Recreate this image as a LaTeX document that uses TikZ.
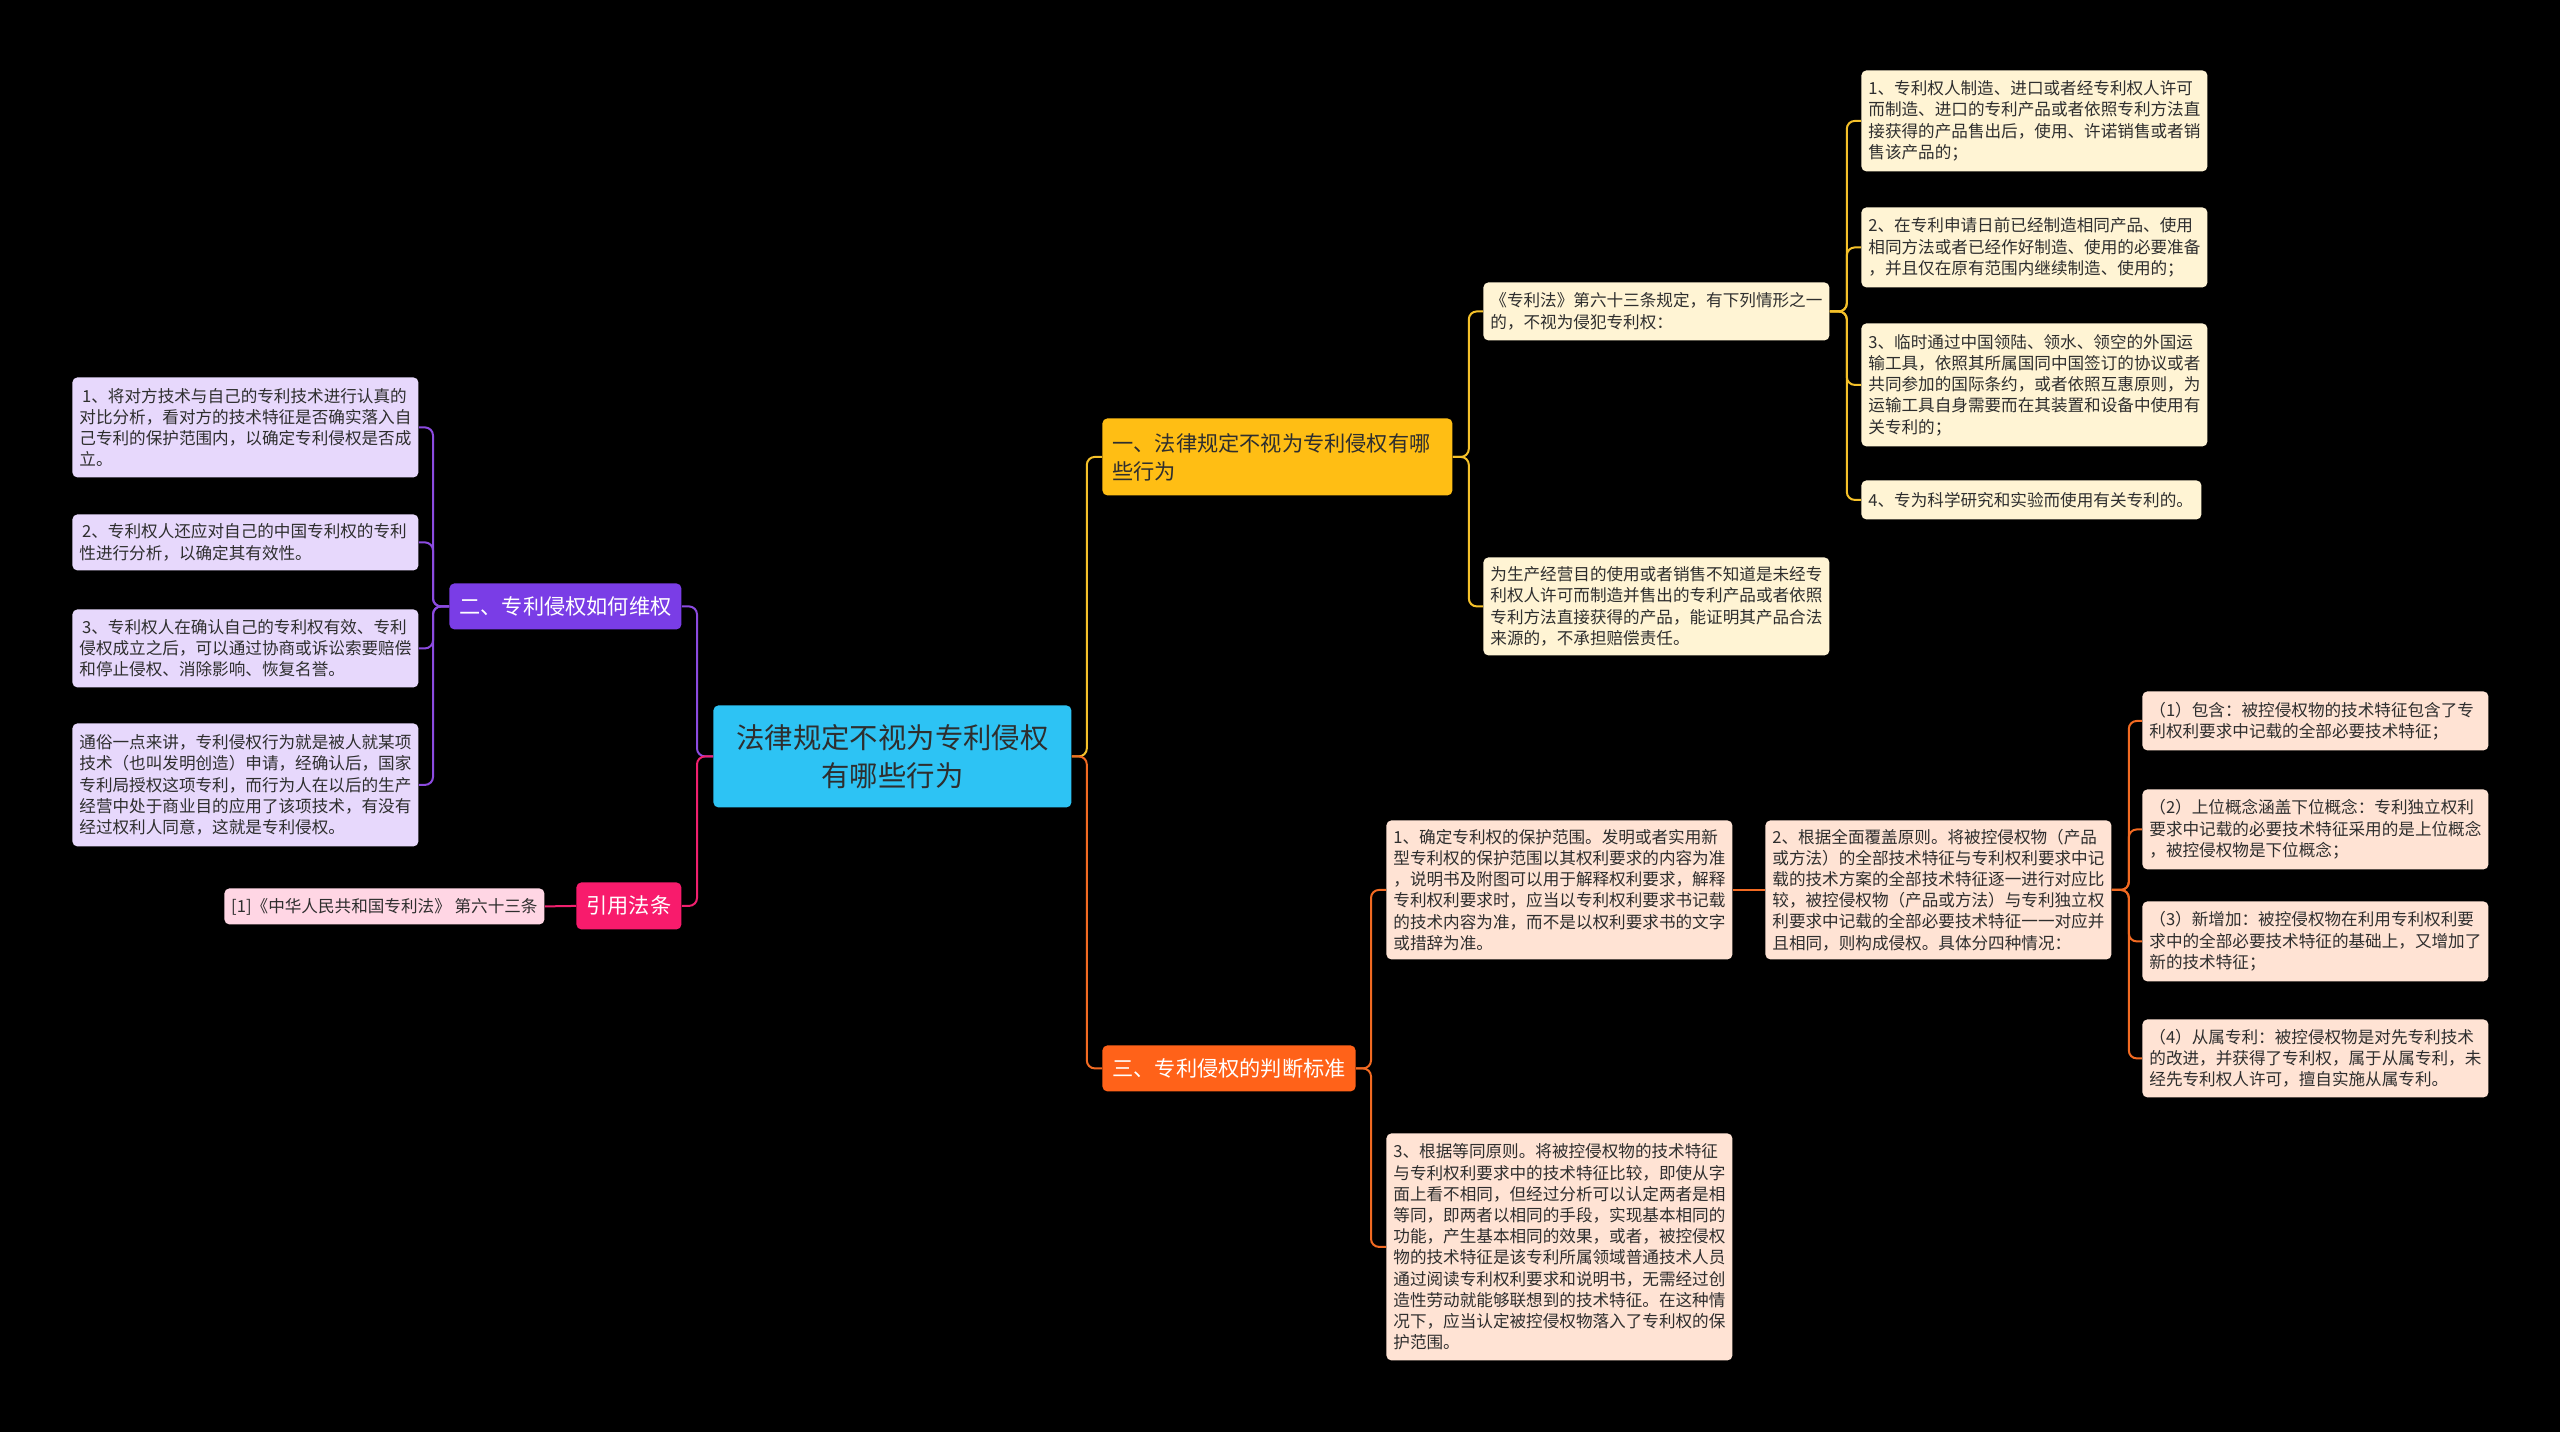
\documentclass[tikz,border=0pt]{standalone}
\usepackage{fontspec}
\setmainfont{Noto Sans CJK SC}

\definecolor{bgblack}{HTML}{000000}
\definecolor{txtdark}{HTML}{2E2E2E}
\definecolor{rootcyan}{HTML}{2DC3F4}
\definecolor{brY}{HTML}{FFBE14}
\definecolor{brO}{HTML}{FF6219}
\definecolor{brP}{HTML}{7A3DE6}
\definecolor{brK}{HTML}{F81B6C}
\definecolor{lfY}{HTML}{FFF4D4}
\definecolor{lfO}{HTML}{FFE3D4}
\definecolor{lfP}{HTML}{E7D8FC}
\definecolor{lfK}{HTML}{FFD6E4}
\definecolor{lnYc}{HTML}{F5C12A}
\definecolor{lnOc}{HTML}{F26A22}
\definecolor{lnPc}{HTML}{8C4BE0}
\definecolor{lnKc}{HTML}{F0206E}

\tikzset{
  box/.style={rounded corners=2.5pt, anchor=north west, inner xsep=3.5pt, inner ysep=2pt},
  leaf/.style={box, align=left, text width=166pt, text=txtdark, font={\fontsize{8.3}{10.6}\selectfont}},
  leafY/.style={leaf, fill=lfY},
  leafO/.style={leaf, fill=lfO},
  leafP/.style={leaf, fill=lfP},
  branch/.style={box, inner xsep=5pt, align=center, font={\fontsize{10.6}{14}\selectfont}},
  conn/.style={line width=1pt, rounded corners=4pt},
  lnY/.style={conn, draw=lnYc},
  lnO/.style={conn, draw=lnOc},
  lnP/.style={conn, draw=lnPc},
  lnK/.style={conn, draw=lnKc},
}

\begin{document}
\begin{tikzpicture}[x=0.5pt, y=-0.5pt]
\fill[bgblack] (0,0) rectangle (2560,1432);
\useasboundingbox (0,0) rectangle (2560,1432);

% centre
\node[box, fill=rootcyan, text=txtdark, align=center, minimum width=179pt, minimum height=51pt,
      font={\fontsize{14.2}{18.8}\selectfont}] (root) at (713,705)
  {法律规定不视为专利侵权\\有哪些行为};

% main branches
\node[branch, fill=brY, text=txtdark, align=left, text width=165pt, minimum height=38.5pt] (b1) at (1102,418)
  {一、法律规定不视为专利侵权有哪\\些行为};
\node[branch, fill=brO, text=white, minimum width=126.5pt, minimum height=23pt] (b3) at (1102,1045)
  {三、专利侵权的判断标准};
\node[branch, fill=brP, text=white, minimum width=116pt, minimum height=23pt] (b2) at (449,583)
  {二、专利侵权如何维权};
\node[branch, fill=brK, text=white, minimum width=52.5pt, minimum height=23.5pt] (cite) at (576,882)
  {引用法条};

% branch one
\node[leafY, minimum height=29pt] (y1) at (1483,282)
  {《专利法》第六十三条规定，有下列情形之一\\的，不视为侵犯专利权：};
\node[leafY, minimum height=49pt] (y2) at (1483,557)
  {为生产经营目的使用或者销售不知道是未经专\\利权人许可而制造并售出的专利产品或者依照\\专利方法直接获得的产品，能证明其产品合法\\来源的，不承担赔偿责任。};
\node[leafY, minimum height=50.5pt] (y11) at (1861,70)
  {1、专利权人制造、进口或者经专利权人许可\\而制造、进口的专利产品或者依照专利方法直\\接获得的产品售出后，使用、许诺销售或者销\\售该产品的；};
\node[leafY, minimum height=40pt] (y12) at (1861,207)
  {2、在专利申请日前已经制造相同产品、使用\\相同方法或者已经作好制造、使用的必要准备\\，并且仅在原有范围内继续制造、使用的；};
\node[leafY, minimum height=61.5pt] (y13) at (1861,323)
  {3、临时通过中国领陆、领水、领空的外国运\\输工具，依照其所属国同中国签订的协议或者\\共同参加的国际条约，或者依照互惠原则，为\\运输工具自身需要而在其装置和设备中使用有\\关专利的；};
\node[leafY, text width=163pt, minimum height=19.5pt] (y14) at (1861,480)
  {4、专为科学研究和实验而使用有关专利的。};

% branch three
\node[leafO, minimum height=69.5pt] (o1) at (1386,820)
  {1、确定专利权的保护范围。发明或者实用新\\型专利权的保护范围以其权利要求的内容为准\\，说明书及附图可以用于解释权利要求，解释\\专利权利要求时，应当以专利权利要求书记载\\的技术内容为准，而不是以权利要求书的文字\\或措辞为准。};
\node[leafO, minimum height=69.5pt] (o2) at (1765,820)
  {2、根据全面覆盖原则。将被控侵权物（产品\\或方法）的全部技术特征与专利权利要求中记\\载的技术方案的全部技术特征逐一进行对应比\\较，被控侵权物（产品或方法）与专利独立权\\利要求中记载的全部必要技术特征一一对应并\\且相同，则构成侵权。具体分四种情况：};
\node[leafO, minimum height=113.5pt] (o3) at (1386,1133)
  {3、根据等同原则。将被控侵权物的技术特征\\与专利权利要求中的技术特征比较，即使从字\\面上看不相同，但经过分析可以认定两者是相\\等同，即两者以相同的手段，实现基本相同的\\功能，产生基本相同的效果，或者，被控侵权\\物的技术特征是该专利所属领域普通技术人员\\通过阅读专利权利要求和说明书，无需经过创\\造性劳动就能够联想到的技术特征。在这种情\\况下，应当认定被控侵权物落入了专利权的保\\护范围。};
\node[leafO, minimum height=29.5pt] (o21) at (2142,691)
  {（1）包含：被控侵权物的技术特征包含了专\\利权利要求中记载的全部必要技术特征；};
\node[leafO, minimum height=40pt] (o22) at (2142,789)
  {（2）上位概念涵盖下位概念：专利独立权利\\要求中记载的必要技术特征采用的是上位概念\\，被控侵权物是下位概念；};
\node[leafO, minimum height=40pt] (o23) at (2142,901)
  {（3）新增加：被控侵权物在利用专利权利要\\求中的全部必要技术特征的基础上，又增加了\\新的技术特征；};
\node[leafO, minimum height=39pt] (o24) at (2142,1019)
  {（4）从属专利：被控侵权物是对先专利技术\\的改进，并获得了专利权，属于从属专利，未\\经先专利权人许可，擅自实施从属专利。};

% branch two
\node[leafP, minimum height=50pt] (p1) at (72,377)
  {\,1、将对方技术与自己的专利技术进行认真的\\对比分析，看对方的技术特征是否确实落入自\\己专利的保护范围内，以确定专利侵权是否成\\立。};
\node[leafP, minimum height=28pt] (p2) at (72,514)
  {\,2、专利权人还应对自己的中国专利权的专利\\性进行分析，以确定其有效性。};
\node[leafP, minimum height=39pt] (p3) at (72,609)
  {\,3、专利权人在确认自己的专利权有效、专利\\侵权成立之后，可以通过协商或诉讼索要赔偿\\和停止侵权、消除影响、恢复名誉。};
\node[leafP, minimum height=61.5pt] (p4) at (72,723)
  {通俗一点来讲，专利侵权行为就是被人就某项\\技术（也叫发明创造）申请，经确认后，国家\\专利局授权这项专利，而行为人在以后的生产\\经营中处于商业目的应用了该项技术，有没有\\经过权利人同意，这就是专利侵权。};

% cited law
\node[box, fill=lfK, text=txtdark, minimum width=160pt, minimum height=18pt, inner xsep=3pt,
      font={\fontsize{8.3}{10.6}\selectfont}] (citeleaf) at (224,888)
  {[1]《中华人民共和国专利法》 第六十三条};

% connectors
\draw[lnY] (root.east) -- ++(15,0) |- (b1.west);
\draw[lnO] (root.east) -- ++(15,0) |- (b3.west);
\draw[lnP] (root.west) -- ++(-16,0) |- (b2.east);
\draw[lnK] (root.west) -- ++(-16,0) |- (cite.east);
\foreach \c in {y1,y2} \draw[lnY] (b1.east) -- ++(16,0) |- (\c.west);
\foreach \c in {y11,y12,y13,y14} \draw[lnY] (y1.east) -- ++(17,0) |- (\c.west);
\foreach \c in {o1,o3} \draw[lnO] (b3.east) -- ++(15,0) |- (\c.west);
\draw[lnO] (o1.east) -- (o2.west);
\foreach \c in {o21,o22,o23,o24} \draw[lnO] (o2.east) -- ++(17,0) |- (\c.west);
\foreach \c in {p1,p2,p3,p4} \draw[lnP] (b2.west) -- ++(-16,0) |- (\c.east);
\draw[lnK] (cite.west) -- (citeleaf.east);
\end{tikzpicture}
\end{document}
